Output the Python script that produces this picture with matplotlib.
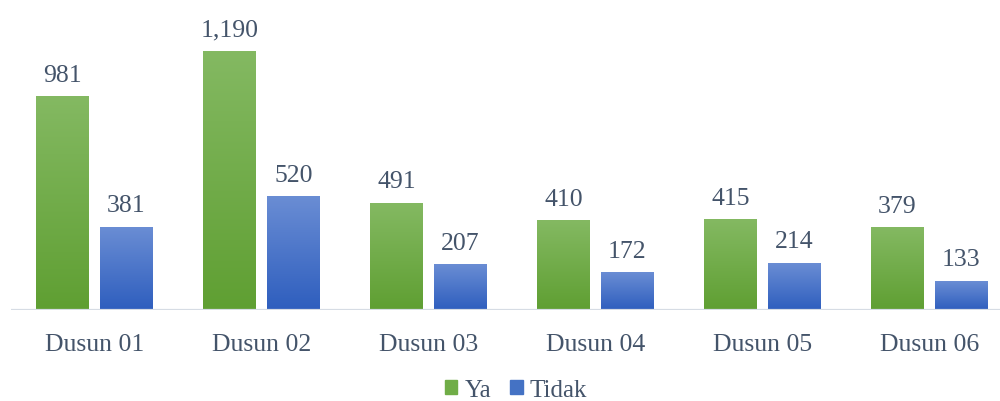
import matplotlib.pyplot as plt
import matplotlib.patches as mpatches
import numpy as np
from matplotlib.colors import LinearSegmentedColormap

categories = ["Dusun 01", "Dusun 02", "Dusun 03", "Dusun 04", "Dusun 05", "Dusun 06"]
ya = [981, 1190, 491, 410, 415, 379]
tidak = [381, 520, 207, 172, 214, 133]

plt.rcParams['font.family'] = ['Liberation Serif', 'DejaVu Serif']
txt_color = '#44546A'

green_cmap = LinearSegmentedColormap.from_list('g', ['#5F9F32', '#84B962'])
blue_cmap = LinearSegmentedColormap.from_list('b', ['#2E5EBE', '#6A8DD4'])

fig = plt.figure(figsize=(10, 4.02), dpi=100)
ax = fig.add_axes([0.011, (402 - 311) / 402, 1.002, 311 / 402])

w = 0.317
gap = 11 / 167
x = np.arange(len(categories))
grad = np.linspace(0, 1, 256).reshape(-1, 1)

def grad_bar(xc, h, cmap):
    ax.imshow(grad, cmap=cmap, origin='lower', aspect='auto',
              extent=(xc - w / 2, xc + w / 2, 0, h), zorder=2)

for i in range(len(categories)):
    xg = x[i] - gap / 2 - w / 2
    xb = x[i] + gap / 2 + w / 2
    grad_bar(xg, ya[i], green_cmap)
    grad_bar(xb, tidak[i], blue_cmap)
    ax.annotate(f"{ya[i]:,}", xy=(xg, ya[i]), xytext=(0, 11.5), textcoords='offset points',
                ha='center', va='baseline', fontsize=18.5, color=txt_color)
    ax.annotate(f"{tidak[i]:,}", xy=(xb, tidak[i]), xytext=(0, 11.5), textcoords='offset points',
                ha='center', va='baseline', fontsize=18.5, color=txt_color)
    ax.annotate(categories[i], xy=(x[i], 0), xytext=(0, -28.8), textcoords='offset points',
                ha='center', va='baseline', fontsize=18.5, color=txt_color,
                annotation_clip=False)

ax.set_xlim(-0.5, len(categories) - 0.5)
ax.set_ylim(0, 311 / 0.2176)
ax.axhline(0, color='#D6DCE4', lw=1.6, zorder=3)
ax.axis('off')

handles = [mpatches.Patch(color='#70AD47', label='Ya'),
           mpatches.Patch(color='#4472C4', label='Tidak')]
fig.legend(handles=handles, loc='center', bbox_to_anchor=(0.516, (402 - 391) / 402),
           ncol=2, frameon=False, fontsize=18, handlelength=0.5, handleheight=0.5,
           handletextpad=0.3, columnspacing=0.75, labelcolor=txt_color,
           borderpad=0, borderaxespad=0)

fig.savefig('out.png', dpi=100)
